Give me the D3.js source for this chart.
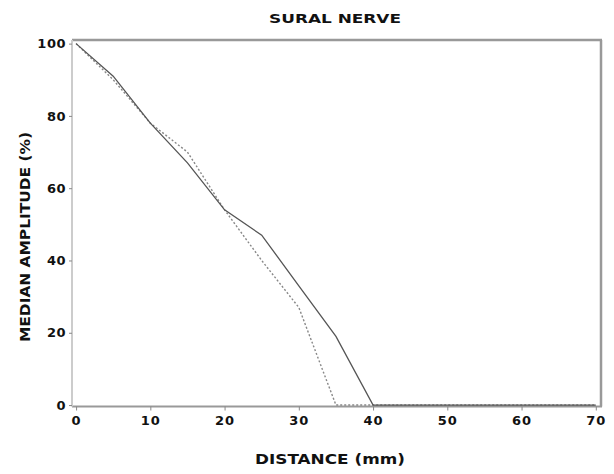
<!DOCTYPE html>
<html lang="en-US">
<head>
  <meta charset="UTF-8"/>
  <title>Sural nerve</title>
  <style>
    body { margin: 0; background: #fff; }
    text { font-family: "DejaVu Sans", sans-serif; font-weight: bold; fill: #111; }
  </style>
</head>
<body>
<script src="https://cdn.jsdelivr.net/npm/d3@7"></script>
<script>

// data (distance in mm, median amplitude in %)
var distance  = [0, 5, 10, 15, 20, 25, 30, 35, 40, 45, 50, 55, 60, 65, 70];
var ampSolid  = [100, 91, 78, 67, 54, 47, 33, 19, 0, 0, 0, 0, 0, 0, 0];
var ampDotted = [100, 90, 78, 70, 54, 40, 27, 0, 0, 0, 0, 0, 0, 0, 0];
var xTicks = [0, 10, 20, 30, 40, 50, 60, 70];
var yTicks = [0, 20, 40, 60, 80, 100];

var W = 614, H = 474;
var x0 = 72, x1 = 601, y0 = 406.5, y1 = 40;

var svg = d3.select("body").append("svg")
    .attr("width", W)
    .attr("height", H);

var xScale = d3.scaleLinear().domain([-0.55, 70.7]).range([x0, x1]);
var yScale = d3.scaleLinear().domain([-0.4, 101]).range([y0, y1]);

// frame: top and right borders
svg.append("line").attr("x1", x0).attr("x2", x1 + 1).attr("y1", y1).attr("y2", y1)
    .attr("stroke", "#999").attr("stroke-width", 2.5);
svg.append("line").attr("x1", x1).attr("x2", x1).attr("y1", y1).attr("y2", y0)
    .attr("stroke", "#999").attr("stroke-width", 2.5);

// x axis
var xAxis = svg.append("g")
    .attr("transform", "translate(0," + y0 + ")")
    .call(d3.axisBottom(xScale).tickValues(xTicks).tickSize(4).tickPadding(5));
xAxis.select(".domain").attr("stroke", "#999").attr("stroke-width", 2).attr("d", "M" + x0 + ",0H" + (x1 + 1));
xAxis.selectAll(".tick line").attr("stroke", "#888");
xAxis.selectAll(".tick text")
    .attr("font-size", 13).attr("letter-spacing", "1px").attr("fill", "#111")
    .style("font-family", "DejaVu Sans").style("font-weight", "bold");

// y axis
var yAxis = svg.append("g")
    .attr("transform", "translate(" + x0 + ",0)")
    .call(d3.axisLeft(yScale).tickValues(yTicks).tickSize(3).tickPadding(3));
yAxis.select(".domain").attr("stroke", "#ccc").attr("stroke-width", 2).attr("d", "M0," + y1 + "V" + y0);
yAxis.selectAll(".tick line").attr("stroke", "#888");
yAxis.selectAll(".tick text")
    .attr("font-size", 13).attr("letter-spacing", "0.5px").attr("fill", "#111")
    .style("font-family", "DejaVu Sans").style("font-weight", "bold");

// lines
var line = function(vals) {
  return d3.line()
      .x(function(d, i) { return xScale(distance[i]); })
      .y(function(d)    { return yScale(d); })(vals);
};

svg.append("path")
    .attr("d", line(ampDotted))
    .attr("fill", "none")
    .attr("stroke", "#888")
    .attr("stroke-width", 1.4)
    .attr("stroke-dasharray", "2,2");

svg.append("path")
    .attr("d", line(ampSolid))
    .attr("fill", "none")
    .attr("stroke", "#555")
    .attr("stroke-width", 1.3);

// title
svg.append("text")
    .attr("x", 335).attr("y", 23)
    .attr("text-anchor", "middle")
    .attr("font-size", 12)
    .attr("textLength", 132).attr("lengthAdjust", "spacingAndGlyphs")
    .text("SURAL NERVE");

// x label
svg.append("text")
    .attr("x", 330).attr("y", 464)
    .attr("text-anchor", "middle")
    .attr("font-size", 14)
    .attr("textLength", 150).attr("lengthAdjust", "spacingAndGlyphs")
    .text("DISTANCE (mm)");

// y label
svg.append("text")
    .attr("transform", "translate(30,237) rotate(-90)")
    .attr("text-anchor", "middle")
    .attr("font-size", 14)
    .attr("textLength", 210).attr("lengthAdjust", "spacingAndGlyphs")
    .text("MEDIAN AMPLITUDE (%)");

</script>
</body>
</html>
